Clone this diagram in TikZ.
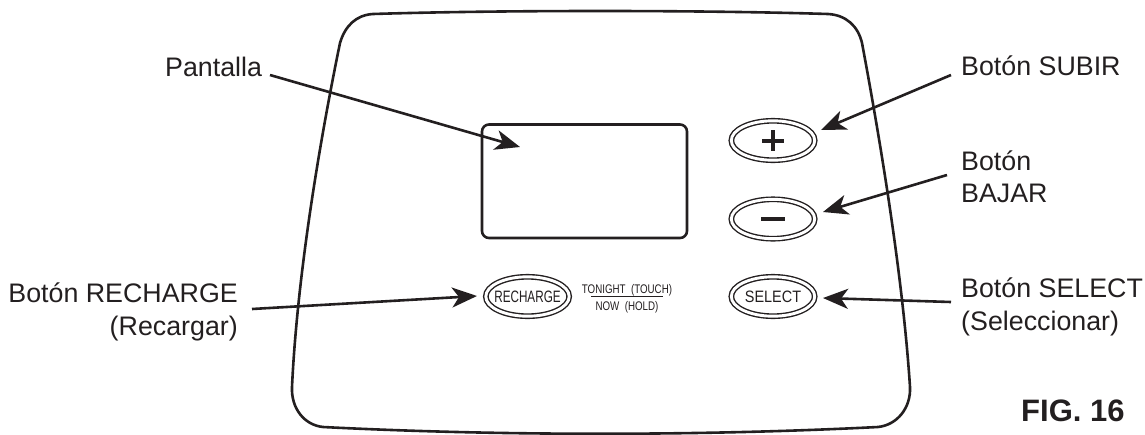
\documentclass[tikz,border=0pt]{standalone}
\usepackage{fontspec}
\usepackage{graphicx}
\setmainfont{Liberation Sans}
\usetikzlibrary{arrows.meta,shapes.geometric}
\definecolor{ink}{HTML}{231F20}
\tikzset{
  lab/.style={font=\fontsize{26.8}{32.3}\selectfont,text=ink,inner sep=0pt,align=left},
  lead/.style={draw=ink,line width=2.6pt,-{Stealth[length=25pt,width=20pt,inset=7pt]},shorten >=0pt},
  btn/.style={ellipse,draw=ink,line width=1.4pt,double=white,double distance=2.9pt,inner sep=0pt,text=ink,minimum width=83.4pt,minimum height=39.4pt},
  btntext/.style={font=\fontsize{16.5}{18}\selectfont},
  small/.style={font=\fontsize{12.5}{14}\selectfont,text=ink,inner sep=0pt,anchor=base},
  body/.style={draw=ink,line width=2.6pt}
}
\begin{document}
\begin{tikzpicture}[x=1pt,y=-1pt]
\useasboundingbox (0,0) rectangle (1145,434);
\draw[body] (340,43) .. controls (345,26) and (356,15) .. (373,14) .. controls (500,10) and (700,10) .. (828,14) .. controls (846,15) and (858,26) .. (862,43) .. controls (882,150) and (903,280) .. (910,387) .. controls (911,408) and (897,425) .. (878,427) .. controls (700,436) and (500,436) .. (323,427) .. controls (304,425) and (291,408) .. (292,387) .. controls (297,280) and (318,150) .. (340,43) -- cycle;
\draw[body,rounded corners=7pt] (482,124.5) rectangle (687,238);
\node[btn] (plus) at (773,140.5) {};
\node[btn] (minus) at (773,219) {};
\node[btn,btntext] (sel) at (773,296.5) {\makebox[0pt]{\scalebox{.875}[1]{SELECT}}};
\node[btn,btntext] (rech) at (527.5,296.5) {\makebox[0pt]{\scalebox{.71}[1]{RECHARGE}}};
\draw[ink,line width=4pt] (762,140.5) -- (784,140.5) (773,130) -- (773,151);
\draw[ink,line width=4pt] (761,219) -- (785,219);
\node[small] (tn) at (627,293) {\scalebox{.78}[1]{TONIGHT\ \ (TOUCH)}};
\node[small] (nw) at (627,310) {\scalebox{.78}[1]{NOW\ \ (HOLD)}};
\draw[ink,line width=1pt] (591,296.7) -- (663,296.7);
\node[lab,anchor=base west] (pan) at (165,76) {Pantalla};
\node[lab,anchor=base west] (sub) at (961,75.7) {Botón SUBIR};
\node[lab,anchor=base west] (baj) at (961,202.3) {Botón\\BAJAR};
\node[lab,anchor=base west] (sl) at (961,330) {Botón SELECT\\(Seleccionar)};
\node[lab,anchor=base east,align=right] (re) at (238,335) {Botón RECHARGE\\(Recargar)};
\node[font=\bfseries\fontsize{31}{36}\selectfont,text=ink,inner sep=0pt,anchor=base west] (fig) at (1021,421) {FIG. 16};
\coordinate (a1) at (270,75);
\coordinate (a1e) at (520,147);
\coordinate (a2) at (951,75);
\coordinate (a2e) at (821,130);
\coordinate (a3) at (947,175);
\coordinate (a3e) at (823,212);
\coordinate (a4) at (951,302);
\coordinate (a4e) at (823,298);
\coordinate (a5) at (252,309);
\coordinate (a5e) at (477,296);
\draw[lead] (a1) -- (a1e);
\draw[lead] (a2) -- (a2e);
\draw[lead] (a3) -- (a3e);
\draw[lead] (a4) -- (a4e);
\draw[lead] (a5) -- (a5e);
\end{tikzpicture}
\end{document}
